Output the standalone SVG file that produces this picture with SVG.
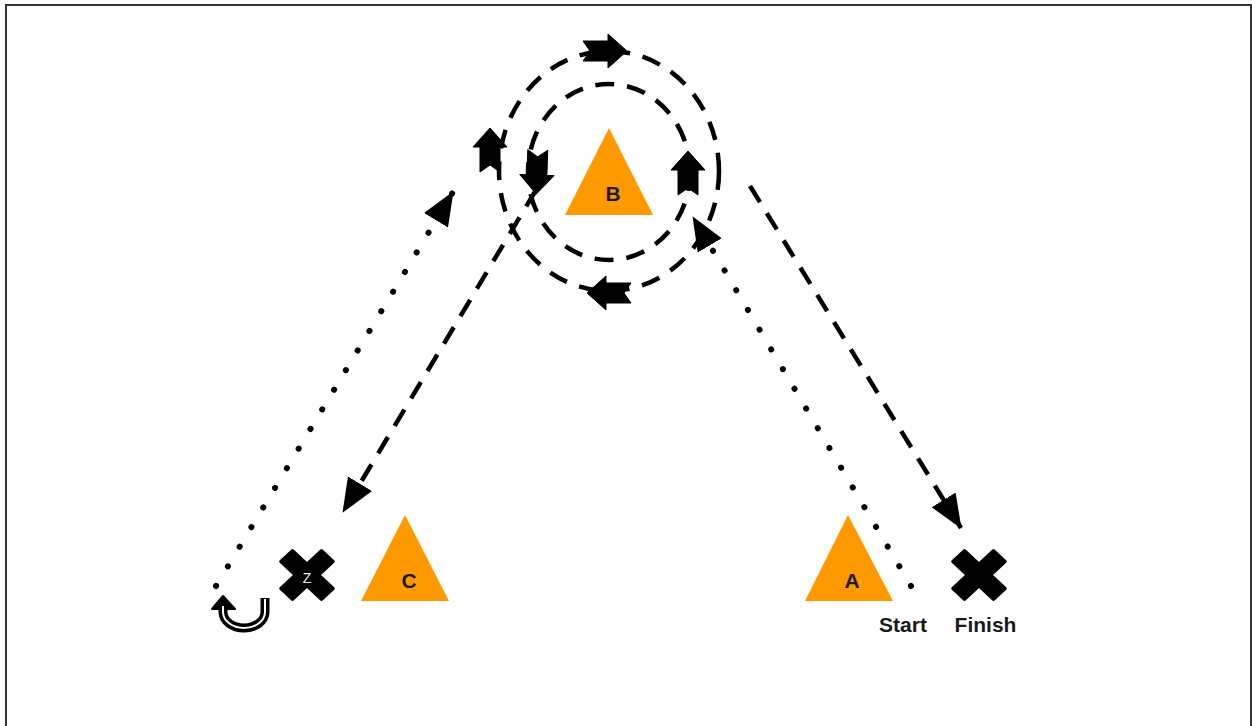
<svg xmlns="http://www.w3.org/2000/svg" width="1252" height="726" viewBox="0 0 1252 726">
  <style>
    .tri { fill: #ff9900; }
    .lbl { font-family: "Liberation Sans", Arial, sans-serif; font-weight: bold; font-size: 21px; fill: #1a1a1a; text-anchor: middle; }
    .dash { fill: none; stroke: #000; stroke-width: 4.5; stroke-dasharray: 19 13; }
    .dot { fill: none; stroke: #000; stroke-width: 6; stroke-linecap: round; stroke-dasharray: 0.1 22.8; }
    .cross { fill: #000; stroke: #000; stroke-width: 4; stroke-linejoin: round; }
    .blk { fill: #000; stroke: #000; stroke-width: 1; stroke-linejoin: round; }
  </style>
  <defs>
    <path id="barrow" d="M-22,-10 L3,-10 L3,-17 L22,0 L3,17 L3,10 L-22,10 L-15,0 Z"/>
    <path id="xshape" d="M-8,-28.5 L8,-28.5 L8,-8 L28.5,-8 L28.5,8 L8,8 L8,28.5 L-8,28.5 L-8,8 L-28.5,8 L-28.5,-8 L-8,-8 Z"/>
    <marker id="ah" markerUnits="userSpaceOnUse" markerWidth="34" markerHeight="28" viewBox="0 0 34 28" refX="33" refY="14" orient="auto">
      <path d="M0,0 L34,14 L0,28 Z" fill="#000"/>
    </marker>
  </defs>

  <rect x="6" y="5" width="1245" height="740" fill="#fff" stroke="#333" stroke-width="2"/>

  <g id="connectors">
    <ellipse class="dash" cx="609" cy="171" rx="110" ry="120"/>
    <ellipse class="dash" cx="609" cy="172" rx="81" ry="88"/>
    <line class="dash" x1="536" y1="190" x2="343" y2="512" marker-end="url(#ah)"/>
    <line class="dash" x1="750" y1="186" x2="961" y2="528" marker-end="url(#ah)"/>
    <line class="dot" x1="216" y1="586" x2="453" y2="192" marker-end="url(#ah)"/>
    <line class="dot" x1="911" y1="586" x2="693" y2="217" marker-end="url(#ah)"/>
    <use href="#barrow" class="blk" transform="translate(605,51)"/>
    <use href="#barrow" class="blk" transform="translate(490,150) rotate(-90)"/>
    <use href="#barrow" class="blk" transform="translate(537,172) rotate(92)"/>
    <use href="#barrow" class="blk" transform="translate(688,173) rotate(-90)"/>
    <use href="#barrow" class="blk" transform="translate(609,293) rotate(180)"/>
  </g>

  <g id="node-B">
    <polygon class="tri" points="609,128 653,215 565,215"/>
    <text class="lbl" x="613" y="201">B</text>
  </g>

  <g id="node-C">
    <polygon class="tri" points="405,515 449,601 361,601"/>
    <text class="lbl" x="409" y="588">C</text>
  </g>

  <g id="node-A">
    <polygon class="tri" points="848,515 893,601 805,601"/>
    <text class="lbl" x="852" y="588">A</text>
  </g>

  <g id="node-Z">
    <use href="#xshape" class="cross" transform="translate(307,575) scale(1,0.93) rotate(45)"/>
    <text x="307" y="583" font-family="Liberation Sans, Arial, sans-serif" font-size="14" fill="#eee" text-anchor="middle">Z</text>
  </g>

  <g id="node-finish">
    <use href="#xshape" class="cross" transform="translate(979,575) scale(1,0.93) rotate(45)"/>
    <text class="lbl" x="985.5" y="632">Finish</text>
  </g>

  <g id="node-start">
    <text class="lbl" x="903" y="632">Start</text>
  </g>

  <g id="node-uturn">
    <path d="M223,606 L223,612 A21,16 0 0 0 265,612 L265,598" fill="none" stroke="#000" stroke-width="9"/>
    <polygon points="212,609 223,596 235,609" fill="#000" stroke="#000" stroke-width="2" stroke-linejoin="round"/>
    <path d="M223,606 L223,612 A21,16 0 0 0 265,612 L265,599" fill="none" stroke="#fff" stroke-width="2"/>
  </g>
</svg>
